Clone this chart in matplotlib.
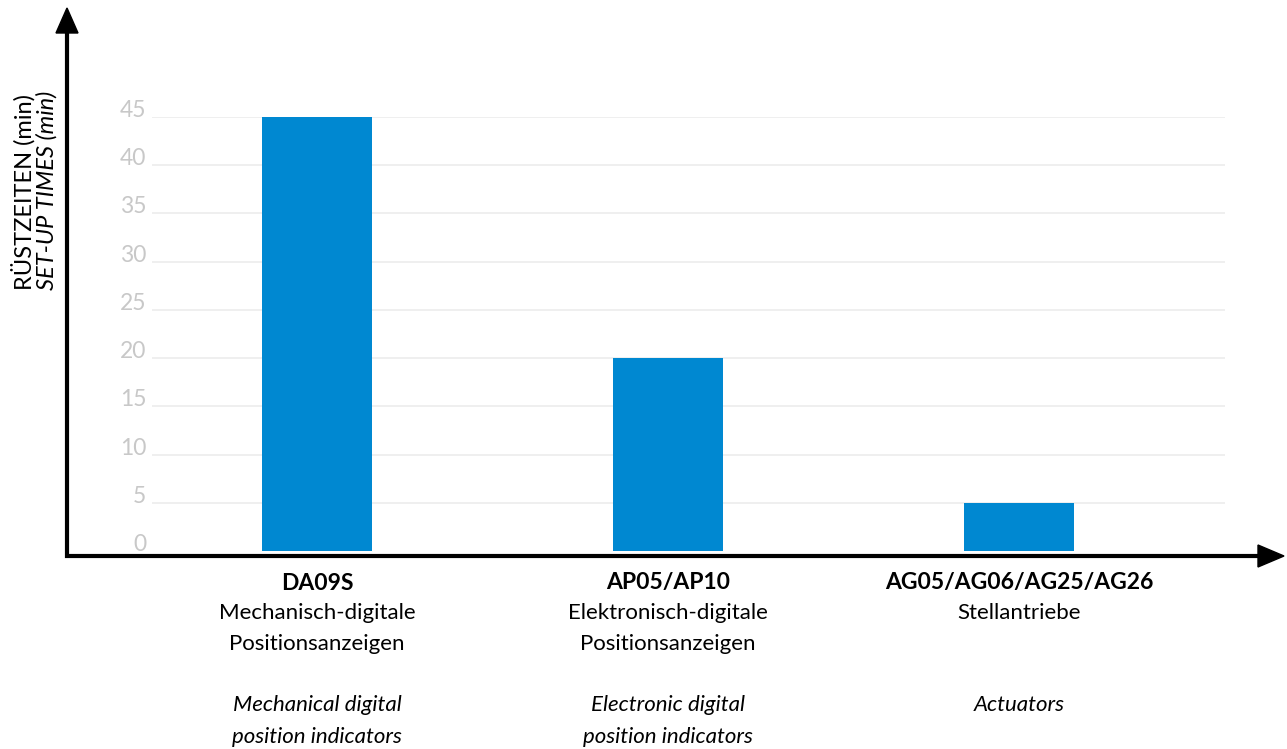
import matplotlib.pyplot as plt
from matplotlib.lines import Line2D
from matplotlib.patches import Polygon

plt.rcParams['font.family'] = ['Lato', 'DejaVu Sans']

# data
codes = ["DA09S", "AP05/AP10", "AG05/AG06/AG25/AG26"]
names_de = ["Mechanisch-digitale\nPositionsanzeigen", "Elektronisch-digitale\nPositionsanzeigen", "Stellantriebe"]
names_en = ["Mechanical digital\nposition indicators", "Electronic digital\nposition indicators", "Actuators"]
minutes = [45, 20, 5]
yticks = [0, 5, 10, 15, 20, 25, 30, 35, 40, 45]

W, H = 1287, 749
fig = plt.figure(figsize=(W / 100, H / 100), dpi=100)

def fx(x):
    return x / W

def fy(y):
    return 1 - y / H

# axes spans the gridline area
ax = fig.add_axes([fx(152), fy(551), fx(1225) - fx(152), fy(117) - fy(551)])
xs = list(range(len(minutes)))
ax.bar(xs, minutes, width=0.313, color="#0088d1", zorder=2)
ax.set_xlim(-0.470, 2.587)
ax.set_ylim(0, 45)
ax.set_yticks(yticks)
ax.set_yticklabels([str(v) for v in yticks])
ax.set_xticks([])
ax.tick_params(axis='y', length=0, pad=4, labelsize=16.5, labelcolor="#c8c8c8")
for lab in ax.get_yticklabels():
    lab.set_va('baseline')
for s in ax.spines.values():
    s.set_visible(False)
ax.grid(axis='y', color="#ececec", linewidth=1.2, zorder=0)
ax.yaxis.get_gridlines()[0].set_visible(False)
ax.patch.set_alpha(0)

def put(i, txt, dy, **kw):
    ax.annotate(txt, xy=(i, 0), xycoords=('data', 'axes fraction'),
                xytext=(0, dy), textcoords='offset pixels', ha='center', va='center',
                annotation_clip=False, **kw)

# category labels under the axis
for i in xs:
    put(i, codes[i], -32, fontsize=16.5, fontweight='bold')
    for k, line in enumerate(names_de[i].split("\n")):
        put(i, line, -62 - 31 * k, fontsize=16)
    for k, line in enumerate(names_en[i].split("\n")):
        put(i, line, -154 - 32 * k, fontsize=16, fontstyle='italic')

# axis arrows
fig.add_artist(Line2D([fx(67), fx(67), fx(1262)], [fy(30), fy(556), fy(556)],
                      color='black', linewidth=3, solid_joinstyle='miter'))
fig.add_artist(Polygon([(fx(56), fy(33)), (fx(78), fy(33)), (fx(67), fy(8))],
                       closed=True, color='black'))
fig.add_artist(Polygon([(fx(1258), fy(545)), (fx(1258), fy(567)), (fx(1284), fy(556))],
                       closed=True, color='black'))

# y label
fig.text(fx(23), fy(290), "RÜSTZEITEN (min)", rotation=90, ha='center', va='bottom', fontsize=17)
fig.text(fx(47), fy(290), "SET-UP TIMES (min)", rotation=90, ha='center', va='bottom',
         fontsize=17, fontstyle='italic')

fig.savefig("out.png", dpi=100)
